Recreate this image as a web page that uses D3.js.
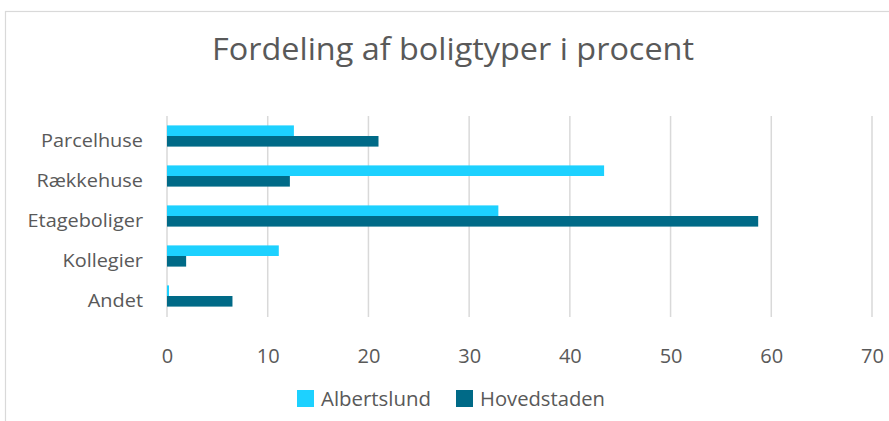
<!DOCTYPE html>
<html><head><meta charset="utf-8">
<script src="https://cdn.jsdelivr.net/npm/d3@7"></script>
<style>body{margin:0;background:#fff}svg{display:block}</style>
</head><body>
<svg id="c" width="889" height="421"></svg>
<script>
const title = "Fordeling af boligtyper i procent";
const categories = ["Parcelhuse", "Rækkehuse", "Etageboliger", "Kollegier", "Andet"];
const seriesNames = ["Albertslund", "Hovedstaden"];
const albertslund = [12.6, 43.4, 32.9, 11.1, 0.2];
const hovedstaden = [21.0, 12.2, 58.7, 1.9, 6.5];
const xTicks = [0, 10, 20, 30, 40, 50, 60, 70];
const colors = ["#1DD1FF", "#006A87"];

const svg = d3.select("#c");
const font = "'Open Sans', 'Noto Sans', sans-serif";
const textColor = "#595959";

svg.append("rect").attr("x", 5.5).attr("y", 11.5).attr("width", 1000).attr("height", 600)
  .attr("fill", "#fff").attr("stroke", "#d9d9d9").attr("stroke-width", 1.2);

const x = d3.scaleLinear().domain([0, 70]).range([167, 872]);
const y = d3.scaleBand().domain(categories).range([116, 316]).paddingInner(0.47).paddingOuter(0.235);
const ySub = d3.scaleBand().domain(seriesNames).range([0, y.bandwidth()]);

// gridlines
svg.append("g").selectAll("line").data(xTicks).join("line")
  .attr("x1", d => x(d)).attr("x2", d => x(d)).attr("y1", 116).attr("y2", 317)
  .attr("stroke", "#d9d9d9").attr("stroke-width", 1.5);

// title
svg.append("text").attr("x", 453).attr("y", 60).attr("text-anchor", "middle")
  .attr("font-family", font).attr("font-size", 31).attr("fill", textColor)
  .attr("textLength", 482).attr("lengthAdjust", "spacingAndGlyphs").text(title);

const rows = categories.map((c, i) => ({c, vals: [albertslund[i], hovedstaden[i]]}));
const g = svg.append("g");
rows.forEach(r => {
  r.vals.forEach((v, j) => {
    g.append("rect").attr("x", x(0)).attr("y", y(r.c) + ySub(seriesNames[j]))
      .attr("width", x(v) - x(0)).attr("height", ySub.bandwidth()).attr("fill", colors[j]);
  });
});

// category axis labels
const yAxis = d3.axisLeft(y).tickSize(0).tickPadding(0);
const ya = svg.append("g").attr("transform", "translate(143,0)").call(yAxis);
ya.select(".domain").remove();
ya.selectAll("text").attr("font-family", font).attr("font-size", 18).attr("fill", textColor)
  .attr("dy", null).attr("y", 11.3);
let scaleF = 1;
ya.selectAll("text").each(function(d) {
  if (d === "Parcelhuse") scaleF = 102 / this.getComputedTextLength();
});
ya.selectAll("text").each(function() {
  const w = this.getComputedTextLength();
  d3.select(this).attr("textLength", w * scaleF).attr("lengthAdjust", "spacingAndGlyphs");
});

// x axis labels
const xAxis = d3.axisBottom(x).tickValues(xTicks).tickSize(0).tickPadding(0);
const xa = svg.append("g").attr("transform", "translate(0,0)").call(xAxis);
xa.select(".domain").remove();
xa.selectAll("text").attr("font-family", font).attr("font-size", 20).attr("fill", textColor)
  .attr("dy", null).attr("y", 362.5);

// legend
const legendItems = [
  {name: seriesNames[0], sx: 297, tx: 321, w: 110},
  {name: seriesNames[1], sx: 456, tx: 480, w: 125}
];
legendItems.forEach((d, i) => {
  svg.append("rect").attr("x", d.sx).attr("y", 390).attr("width", 17).attr("height", 17).attr("fill", colors[i]);
  svg.append("text").attr("x", d.tx).attr("y", 406).attr("font-family", font).attr("font-size", 20)
    .attr("fill", textColor).attr("textLength", d.w).attr("lengthAdjust", "spacingAndGlyphs").text(d.name);
});
</script>
</body></html>
